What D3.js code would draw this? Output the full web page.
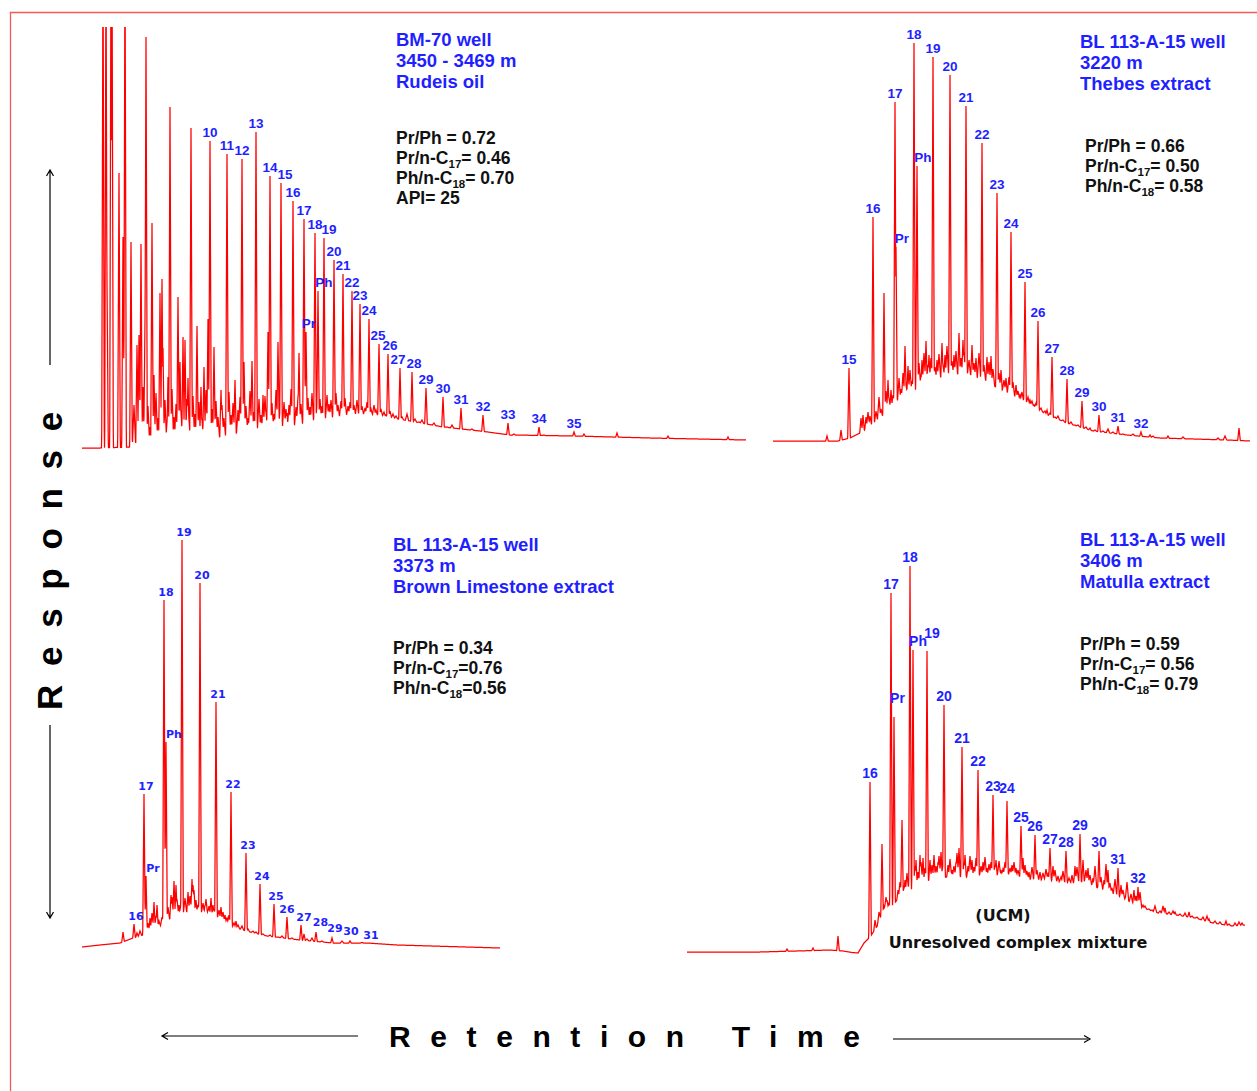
<!DOCTYPE html>
<html>
<head>
<meta charset="utf-8">
<script src="https://cdn.jsdelivr.net/npm/d3@7"></script>
<style>
body { margin: 0; background: #fff; }
svg { display: block; }
</style>
</head>
<body>
<svg id="fig" width="1257" height="1091"></svg>
<script>
// Retention time (min) and detector response (arbitrary units).
// hump = unresolved baseline envelope, peaks = [rt, apex response, label], noise = small unlabeled peaks

var p1Hump = [[0,0],[1.8,0],[4.8,0.1],[7.8,0.2],[11.8,0.5],[16.8,1.5],[21.8,2.1],[25.8,3.0],[27.8,3.3],[29.8,3.2],[32.8,2.7],[36.1,2.1],[39.8,1.7],[42.8,1.3],[49.3,1.2],[56.8,1.0],[66.4,0.8]];
var p1Peaks = [[2.1,50,""],[2.4,50,""],[2.5,16.6,""],[2.9,50,""],[3.0,50,""],[3.7,27.5,""],[4.1,21.1,""],[4.3,50,""],[4.9,20.6,""],[5.5,10.3,""],[5.7,11.3,""],[5.9,20.4,""],[6.1,6.1,""],[6.3,12.8,""],[6.4,41.1,""],[7.0,22.5,""],[7.2,7.3,""],[7.8,15.5,""],[8.0,16.9,""],[8.1,10.0,""],[8.6,7.1,""],[8.8,34.1,""],[9.6,15.1,""],[9.8,8.6,""],[10.1,11.1,""],[10.3,10.8,""],[10.6,7.0,""],[10.9,32.0,""],[11.5,12.2,""],[11.9,6.1,""],[12.2,8.1,""],[12.6,12.9,""],[12.8,30.7,"10"],[13.2,10.1,""],[13.9,5.8,""],[14.5,29.4,"11"],[15.3,6.8,""],[16.0,28.9,"12"],[16.2,8.6,""],[17.0,8.7,""],[17.4,31.6,"13"],[18.1,5.3,""],[18.6,11.6,""],[18.8,27.2,"14"],[19.6,10.6,""],[19.9,26.5,"15"],[20.5,3.5,""],[21.1,24.7,"16"],[21.7,9.5,""],[22.2,22.9,"17"],[22.4,11.6,"Pr"],[23.3,21.5,"18"],[23.6,15.7,"Ph"],[24.2,21.0,"19"],[25.2,18.8,"20"],[26.1,17.4,"21"],[27.0,15.7,"22"],[27.8,14.4,"23"],[28.7,12.9,"24"],[29.7,10.4,"25"],[30.6,9.4,"26"],[31.8,8.0,"27"],[33.0,7.6,"28"],[34.4,6.0,"29"],[36.1,5.1,"30"],[37.9,4.0,"31"],[40.1,3.3,"32"],[42.6,2.5,"33"],[45.7,2.1,"34"],[49.2,1.6,"35"],[50.2,1.4,""],[53.5,1.5,""],[58.6,1.2,""],[64.6,1.1,""]];
var p1Noise = [[5.2,4.3],[6.6,4.2],[6.8,2.1],[7.4,5.5],[7.6,3.0],[8.3,4.8],[8.5,2.6],[9.0,5.9],[9.2,3.1],[9.4,4.4],[9.9,3.6],[10.5,4.9],[10.7,2.8],[11.1,5.2],[11.3,3.4],[11.7,4.6],[12.0,2.9],[12.4,5.8],[13.0,3.9],[13.4,4.7],[13.6,3.1],[14.0,4.3],[14.2,3.0],[14.7,5.6],[14.9,3.3],[15.1,4.5],[15.6,3.8],[15.8,5.1],[16.4,4.2],[16.6,3.0],[16.8,5.7],[17.2,3.6],[17.7,4.9],[17.9,3.3],[18.3,5.2],[18.4,3.6],[19.0,4.5],[19.2,3.4],[19.4,5.8],[19.8,3.8],[20.2,4.6],[20.4,3.9],[20.7,4.3],[20.9,5.9],[21.4,4.1],[21.6,5.2],[21.9,4.4],[22.6,5.0],[22.8,4.1],[23.0,5.5],[23.5,4.3],[23.8,4.9],[24.0,4.2],[24.5,5.3],[24.7,4.4],[24.9,4.8],[25.4,5.5],[25.6,4.3],[25.9,4.7],[26.3,5.0],[26.6,4.2],[26.8,4.6],[27.2,4.3],[27.5,4.8],[28.0,4.2],[28.3,4.0],[28.5,4.6],[28.9,3.9],[29.2,4.3],[29.4,3.8],[29.9,3.9],[30.2,3.6],[30.4,3.3],[30.8,3.7],[31.1,3.4],[31.4,3.2],[32.0,3.1],[32.5,3.4],[33.3,2.9],[33.7,2.6],[34.0,2.8],[34.8,2.3],[35.2,2.5],[35.6,2.2],[36.5,2.1],[37.0,2.3],[37.4,1.9],[38.4,1.8],[39.0,1.9],[40.6,1.6],[41.2,1.5],[43.2,1.4],[44.5,1.3],[46.2,1.3],[48.0,1.2]];

var p2Hump = [[0,0],[6.5,0],[7.7,0.3],[8.7,0.8],[10.4,1.9],[12.0,3.4],[13.7,4.8],[15.4,5.8],[17.4,6.4],[19.4,6.6],[21.4,5.9],[23.4,4.8],[25.4,3.8],[27.4,2.6],[29.4,1.8],[32.0,1.0],[35.4,0.6],[38.7,0.3],[45.4,0.1],[47.7,0]];
var p2Peaks = [[5.4,0.5,""],[6.8,1.1,""],[7.6,7.3,"15"],[8.8,2.3,""],[9.0,2.6,""],[9.3,2.4,""],[10.0,22.4,"16"],[11.1,14.8,""],[11.5,6.1,""],[11.8,5.1,""],[12.2,33.9,"17"],[12.3,19.4,"Pr"],[13.2,9.5,""],[13.5,7.5,""],[14.1,39.8,"18"],[14.4,27.5,"Ph"],[14.9,8.1,""],[15.3,10.0,""],[15.6,8.6,""],[16.0,38.4,"19"],[16.4,8.1,""],[16.9,9.8,""],[17.2,8.6,""],[17.7,36.6,"20"],[18.1,8.6,""],[18.6,10.8,""],[19.0,10.1,""],[19.3,33.5,"21"],[19.9,9.6,""],[20.3,8.3,""],[20.9,29.8,"22"],[21.4,8.4,""],[21.8,8.5,""],[22.4,24.8,"23"],[22.8,7.1,""],[23.3,6.3,""],[23.8,20.9,"24"],[24.3,5.6,""],[24.7,4.6,""],[25.2,15.9,"25"],[25.7,4.1,""],[26.1,3.6,""],[26.5,12.0,"26"],[27.0,2.9,""],[27.4,3.1,""],[27.9,8.4,"27"],[28.7,2.1,""],[29.4,6.2,"28"],[30.2,1.6,""],[30.9,4.0,"29"],[31.7,1.3,""],[32.6,2.6,"30"],[34.5,1.5,"31"],[36.8,0.9,"32"],[37.7,0.6,""],[39.5,0.5,""],[46.6,1.3,""]];
var p2Noise = [[9.5,2.9],[9.7,2.5],[10.3,3.0],[10.6,4.4],[10.8,3.2],[11.3,5.0],[11.6,4.3],[12.0,4.6],[12.6,6.3],[12.8,5.2],[13.0,6.8],[13.3,5.6],[13.7,7.1],[13.9,6.0],[14.6,7.8],[14.8,6.6],[15.1,8.8],[15.5,7.6],[15.8,8.3],[16.2,7.4],[16.6,8.7],[17.0,7.6],[17.4,9.5],[17.9,8.0],[18.3,9.0],[18.8,8.3],[19.1,8.9],[19.6,8.1],[20.1,7.8],[20.6,8.8],[21.1,7.6],[21.6,7.9],[22.0,7.2],[22.6,6.8],[23.1,6.1],[23.6,6.4],[24.0,5.9],[24.5,5.0],[24.9,4.9],[25.5,4.4],[25.9,4.0],[26.3,3.8],[26.8,3.3],[27.2,3.0],[27.7,2.8],[28.2,2.4],[28.5,2.5],[29.0,2.1],[29.8,1.9],[30.5,1.6],[31.3,1.4],[32.2,1.1],[33.0,1.0],[33.5,1.2],[34.0,0.9],[35.0,0.7],[36.0,0.7],[38.0,0.5],[41.0,0.4],[44.5,0.3],[45.2,0.5]];

var p3Hump = [[0,0],[1.8,0.2],[3.8,0.4],[5.1,0.9],[6.1,1.2],[7.1,1.7],[7.8,2.0],[8.8,2.7],[9.8,3.2],[10.8,3.5],[11.8,3.4],[13.5,2.9],[15.1,2.0],[16.8,1.5],[18.5,1.1],[21.8,0.7],[25.1,0.4],[28.5,0.4],[31.5,0.2],[41.8,-0.1]];
var p3Peaks = [[4.1,1.5,""],[5.2,2.3,"16"],[5.5,1.4,""],[6.2,15.3,"17"],[6.4,7.1,"Pr"],[6.8,2.9,""],[7.2,4.5,""],[7.5,4.2,""],[8.2,34.7,"18"],[8.4,20.5,"Ph"],[8.9,5.2,""],[9.2,6.6,""],[9.4,6.2,""],[9.7,4.2,""],[10.0,40.7,"19"],[10.6,5.5,""],[11.0,6.8,""],[11.2,5.7,""],[11.4,4.7,""],[11.8,36.4,"20"],[12.3,4.2,""],[12.6,3.7,""],[12.9,4.9,""],[13.1,4.2,""],[13.4,24.5,"21"],[13.9,4.0,""],[14.3,3.2,""],[14.9,15.5,"22"],[15.4,2.6,""],[16.4,9.4,"23"],[16.8,1.5,""],[17.8,6.3,"24"],[19.2,4.3,"25"],[20.5,3.0,"26"],[21.9,2.2,"27"],[22.2,1.3,""],[23.4,1.5,"28"],[25.0,0.9,"29"],[26.8,0.6,"30"],[28.7,0.4,"31"]];
var p3Noise = [[5.8,1.6],[6.6,2.4],[7.0,3.4],[7.4,3.1],[7.7,2.6],[8.0,3.0],[8.6,4.0],[9.0,5.0],[9.5,4.8],[9.9,4.4],[10.3,4.9],[10.8,5.1],[11.1,6.2],[11.6,4.2],[12.1,4.4],[12.4,4.8],[12.7,4.1],[13.2,3.8],[13.7,3.7],[14.1,3.5],[14.5,2.9],[14.7,3.2],[15.2,2.4],[15.6,2.2],[16.0,2.1],[16.6,1.8],[17.1,1.6],[17.4,1.5],[18.1,1.3],[18.8,1.2],[19.6,1.0],[20.0,1.1],[21.0,0.9],[22.5,0.8],[23.0,0.9],[24.0,0.6],[26.0,0.6],[28.0,0.45]];

var p4Hump = [[0,0],[7.3,0],[12.8,0.15],[14.2,0.2],[15.6,0.1],[16.5,-0.05],[17.1,-0.1],[17.7,0.9],[18.3,1.5],[19.1,2.7],[19.7,4.2],[20.6,4.7],[21.4,5.7],[23.2,6.7],[25.0,7.5],[28.7,7.5],[32.4,7.7],[34.2,7.2],[36.1,7.2],[37.9,6.9],[39.7,7.0],[41.6,6.2],[43.4,5.5],[45.3,4.5],[47.1,3.9],[48.9,3.7],[50.8,3.4],[52.6,2.9],[54.5,2.6],[55.8,2.7]];
var p4Peaks = [[10.0,0.3,""],[12.6,0.4,""],[15.1,1.6,""],[18.3,17.0,"16"],[18.8,3.2,""],[19.5,10.8,""],[19.7,4.6,""],[20.0,5.2,""],[20.4,35.9,"17"],[20.7,23.5,"Pr"],[21.1,6.2,""],[21.5,13.2,""],[21.8,7.2,""],[22.3,38.6,"18"],[22.6,30.2,"Ph"],[22.9,9.2,""],[23.3,9.7,""],[23.6,9.4,""],[24.0,30.1,"19"],[24.3,9.2,""],[24.7,9.7,""],[25.1,9.0,""],[25.4,10.0,""],[25.7,24.7,"20"],[26.1,8.7,""],[26.5,8.2,""],[26.9,9.0,""],[27.2,10.4,""],[27.5,20.5,"21"],[27.8,9.7,""],[28.1,8.6,""],[28.5,9.2,""],[29.1,18.2,"22"],[29.6,9.0,""],[30.0,8.4,""],[30.6,15.7,"23"],[30.9,9.2,""],[31.4,8.2,""],[32.0,15.1,"24"],[32.5,8.7,""],[32.9,8.4,""],[33.4,12.6,"25"],[33.6,9.4,""],[34.2,8.0,""],[34.8,11.7,"26"],[35.3,8.0,""],[36.3,10.4,"27"],[36.6,8.6,""],[37.1,7.6,""],[37.9,10.1,"28"],[38.5,7.7,""],[38.8,8.6,""],[39.3,11.8,"29"],[39.6,9.2,""],[40.1,8.4,""],[40.6,7.4,""],[41.2,10.1,"30"],[41.7,7.2,""],[42.1,8.2,""],[42.5,6.4,""],[43.1,8.4,"31"],[43.4,6.7,""],[43.9,5.6,""],[44.7,6.2,""],[45.1,6.5,"32"],[45.6,4.7,""],[46.5,4.2,""],[47.8,4.4,""],[48.8,4.0,""],[50.2,4.0,""],[52.2,3.3,""],[53.9,3.1,""],[55.5,2.9,""]];
var p4Noise = [[19.2,4.0],[19.4,3.5],[19.9,5.5],[20.2,4.9],[21.3,7.0],[21.7,6.4],[22.0,7.9],[22.1,6.7],[22.8,8.6],[23.1,8.0],[23.4,9.0],[23.8,8.4],[24.5,8.7],[24.9,8.6],[25.2,9.6],[25.6,8.8],[26.3,9.3],[26.7,8.6],[27.0,9.9],[27.7,8.9],[28.3,9.6],[28.7,8.5],[28.9,9.4],[29.4,8.6],[29.8,9.5],[30.2,8.8],[30.4,9.0],[30.8,8.7],[31.2,9.1],[31.6,8.3],[31.8,9.0],[32.3,8.4],[32.7,9.0],[33.1,8.2],[33.8,8.7],[34.0,8.1],[34.5,8.5],[35.0,8.2],[35.6,7.9],[35.9,8.3],[36.1,7.8],[36.8,8.2],[37.4,7.5],[37.6,8.1],[38.2,7.4],[39.0,8.5],[39.9,8.2],[40.3,7.7],[40.8,8.6],[41.4,7.5],[41.9,8.8],[42.3,6.9],[42.8,7.3],[43.6,6.2],[44.0,7.0],[44.4,5.8],[44.9,5.6],[45.3,6.0],[45.8,4.6],[46.2,4.3],[46.8,4.6],[47.3,4.1],[47.6,4.6],[48.2,4.0],[48.6,4.1],[49.3,3.8],[49.8,3.9],[50.5,3.6],[51.0,3.5],[51.6,3.5],[52.0,3.6],[52.8,3.1],[53.3,3.0],[54.2,2.8],[54.8,2.9],[55.2,3.0]];

// sample names and ratios; "_17_" marks a subscript
var p1Title = ["BM-70 well", "3450 - 3469 m", "Rudeis oil"];
var p1Ratios = ["Pr/Ph = 0.72", "Pr/n-C_17_= 0.46", "Ph/n-C_18_= 0.70", "API= 25"];
var p2Title = ["BL 113-A-15 well", "3220 m", "Thebes extract"];
var p2Ratios = ["Pr/Ph = 0.66", "Pr/n-C_17_= 0.50", "Ph/n-C_18_= 0.58"];
var p3Title = ["BL 113-A-15 well", "3373 m", "Brown Limestone extract"];
var p3Ratios = ["Pr/Ph = 0.34", "Pr/n-C_17_=0.76", "Ph/n-C_18_=0.56"];
var p4Title = ["BL 113-A-15 well", "3406 m", "Matulla extract"];
var p4Ratios = ["Pr/Ph = 0.59", "Pr/n-C_17_= 0.56", "Ph/n-C_18_= 0.79"];

var svg = d3.select("#fig");
var ARIAL = "'Liberation Sans', Arial, Helvetica, sans-serif";
var VERD = "'DejaVu Sans', Verdana, sans-serif";

// frame (left and top edges only)
svg.append("path")
  .attr("d", "M10.5,1091 L10.5,12.5 L1257,12.5")
  .attr("fill", "none").attr("stroke", "#f25a5a").attr("stroke-width", 1.3);

var panels = [
  { hump: p1Hump, peaks: p1Peaks, noise: p1Noise, x0: 82, width: 664, base: 448, clipTop: 27,
    lblFont: ARIAL, lblSize: 13.5, lblDx: 0,
    shift: { "15": [4, 0], "19": [5, 0], "Pr": [3, 0], "Ph": [6, 0], "25": [-1, 0], "26": [2, 0], "27": [-2, 0], "28": [2, 0] },
    title: p1Title, tx: 396, ty: 45.5, ratios: p1Ratios, rx: 396, ry: 144 },
  { hump: p2Hump, peaks: p2Peaks, noise: p2Noise, x0: 773, width: 477, base: 441, clipTop: 20,
    lblFont: ARIAL, lblSize: 13.5, lblDx: 0, shift: { "Pr": [6, 0], "Ph": [6, 0] },
    title: p2Title, tx: 1080, ty: 48, ratios: p2Ratios, rx: 1085, ry: 152 },
  { hump: p3Hump, peaks: p3Peaks, noise: p3Noise, x0: 82, width: 418, base: 947, clipTop: 500,
    lblFont: VERD, lblSize: 11, lblDx: 2,
    shift: { "Pr": [7, 0], "Ph": [8, 0], "26": [0, 0], "27": [3, 0], "28": [4.5, -2], "29": [3, -2], "30": [1, -2] },
    title: p3Title, tx: 393, ty: 550.5, ratios: p3Ratios, rx: 393, ry: 654 },
  { hump: p4Hump, peaks: p4Peaks, noise: p4Noise, x0: 687, width: 558, base: 952, clipTop: 500,
    lblFont: ARIAL, lblSize: 14, lblDx: 0, shift: { "Pr": [3.5, -10], "Ph": [5, 0], "19": [5, -9], "24": [0, -4] },
    title: p4Title, tx: 1080, ty: 545.5, ratios: p4Ratios, rx: 1080, ry: 650 }
];

panels.forEach(function (p, i) {
  var x = d3.scaleLinear().domain([0, p.width / 10]).range([p.x0, p.x0 + p.width]);
  var y = d3.scaleLinear().domain([0, 45]).range([p.base, p.base - 450]);
  var hump = d3.scaleLinear()
    .domain(p.hump.map(function (d) { return d[0]; }))
    .range(p.hump.map(function (d) { return d[1]; }))
    .clamp(true);

  var spikes = p.peaks.map(function (d) { return { px: x(d[0]), amp: d[1] - hump(d[0]), w: 1.3 }; })
    .concat(p.noise.map(function (d) { return { px: x(d[0]), amp: d[1] - hump(d[0]), w: 1.7 }; }))
    .filter(function (s) { return s.amp > 0; });

  var xs = d3.range(p.x0, p.x0 + p.width + 0.01, 0.25)
    .concat(spikes.map(function (s) { return s.px; }))
    .sort(d3.ascending);

  var pts = xs.map(function (px) {
    var t = x.invert(px), top = 0;
    spikes.forEach(function (s) {
      var dd = Math.abs(px - s.px);
      if (dd < s.w) top = Math.max(top, s.amp * (1 - dd / s.w));
    });
    return [t, hump(t) + top];
  });

  var clipId = "clip" + i;
  svg.append("clipPath").attr("id", clipId)
    .append("rect").attr("x", p.x0 - 5).attr("y", p.clipTop)
    .attr("width", p.width + 10).attr("height", p.base - p.clipTop + 20);

  var line = d3.line().x(function (d) { return x(d[0]); }).y(function (d) { return y(d[1]); });

  svg.append("path")
    .datum(pts)
    .attr("clip-path", "url(#" + clipId + ")")
    .attr("d", line)
    .attr("fill", "none")
    .attr("stroke", "#ff0000")
    .attr("stroke-width", 1.25)
    .attr("stroke-linejoin", "miter");

  // peak labels
  svg.append("g").selectAll("text")
    .data(p.peaks.filter(function (d) { return d[2] !== ""; }))
    .enter().append("text")
    .attr("x", function (d) { var s = p.shift[d[2]] || [p.lblDx, 0]; return x(d[0]) + s[0]; })
    .attr("y", function (d) { var s = p.shift[d[2]] || [0, 0]; return y(d[1]) - 4 + s[1]; })
    .attr("text-anchor", "middle")
    .attr("font-family", p.lblFont)
    .attr("font-weight", "bold")
    .attr("font-size", p.lblSize)
    .attr("fill", "#1f1fff")
    .text(function (d) { return d[2]; });

  // sample header
  svg.append("g").selectAll("text")
    .data(p.title)
    .enter().append("text")
    .attr("x", p.tx)
    .attr("y", function (d, k) { return p.ty + k * 21; })
    .attr("font-family", ARIAL).attr("font-weight", "bold").attr("font-size", 18.5)
    .attr("fill", "#1f1fff")
    .text(function (d) { return d; });

  // ratios with subscripts
  p.ratios.forEach(function (r, k) {
    var parts = r.split("_");
    var t = svg.append("text")
      .attr("x", p.rx).attr("y", p.ry + k * 20)
      .attr("font-family", ARIAL).attr("font-weight", "bold").attr("font-size", 17.5)
      .attr("fill", "#111");
    parts.forEach(function (s, j) {
      if (!s) return;
      var ts = t.append("tspan").text(s);
      if (j % 2 === 1) ts.attr("font-size", 11.5).attr("dy", 4);
      else if (j > 0) ts.attr("dy", -4);
    });
  });
});

// UCM annotation
svg.append("text").attr("x", 1003).attr("y", 921).attr("text-anchor", "middle")
  .attr("font-family", VERD).attr("font-weight", "bold").attr("font-size", 16).attr("fill", "#111")
  .text("(UCM)");
svg.append("text").attr("x", 1018).attr("y", 948).attr("text-anchor", "middle")
  .attr("font-family", VERD).attr("font-weight", "bold").attr("font-size", 16).attr("fill", "#111")
  .text("Unresolved complex mixture");

// axis captions with arrows
svg.append("text")
  .attr("transform", "translate(61.5,710) rotate(-90)")
  .attr("font-family", ARIAL).attr("font-weight", "bold").attr("font-size", 35)
  .attr("letter-spacing", 18.7).attr("fill", "#000")
  .text("Response");

svg.append("text")
  .attr("x", 389).attr("y", 1046.5)
  .attr("font-family", ARIAL).attr("font-weight", "bold").attr("font-size", 30)
  .attr("letter-spacing", 19.6).attr("fill", "#000")
  .text("Retention Time");

var arrows = svg.append("g").attr("fill", "none").attr("stroke-width", 1.2);
arrows.append("path").attr("d", "M50,365 L50,170 M46.5,176 L50,170 L53.5,176").attr("stroke", "#000");
arrows.append("path").attr("d", "M50,725 L50,918 M46.5,912 L50,918 L53.5,912").attr("stroke", "#000");
arrows.append("path").attr("d", "M358,1036 L162,1036 M168,1032.5 L162,1036 L168,1039.5").attr("stroke", "#000");
arrows.append("path").attr("d", "M893,1039 L1088,1039").attr("stroke", "#777").attr("stroke-width", 2);
arrows.append("path").attr("d", "M1084,1035.5 L1090,1039 L1084,1042.5").attr("stroke", "#000");
</script>
</body>
</html>
